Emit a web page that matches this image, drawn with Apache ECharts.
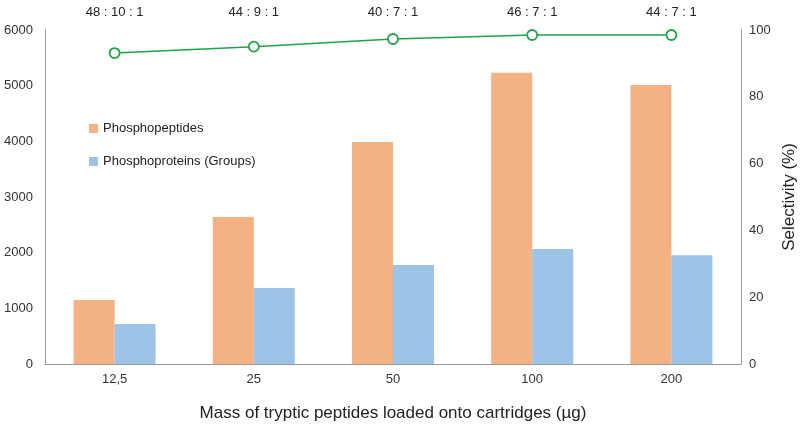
<!DOCTYPE html>
<html><head><meta charset="utf-8">
<script src="https://cdn.jsdelivr.net/npm/echarts@6/dist/echarts.min.js"></script>
<style>html,body{margin:0;padding:0;background:#fff}#c{width:800px;height:428px}</style>
</head><body><div id="c"></div>
<script>
const categories = ['12,5', '25', '50', '100', '200'];
const phosphopeptides = [1150, 2640, 3990, 5230, 5010];
const phosphoproteins = [720, 1365, 1780, 2065, 1955];
const selectivity = [93.1, 95.0, 97.3, 98.5, 98.5];
const ratios = ['48 : 10 : 1', '44 : 9 : 1', '40 : 7 : 1', '46 : 7 : 1', '44 : 7 : 1'];
const leftTicks = [0, 1000, 2000, 3000, 4000, 5000, 6000];
const rightTicks = [0, 20, 40, 60, 80, 100];

const font = 'Liberation Sans, Arial, sans-serif';
const chart = echarts.init(document.getElementById('c'));
chart.setOption({
  animation: false,
  textStyle: { fontFamily: font },
  legend: {
    orient: 'vertical', left: 84, top: 117, itemGap: 20,
    itemWidth: 9, itemHeight: 9, icon: 'rect',
    data: ['Phosphopeptides', 'Phosphoproteins (Groups)'],
    textStyle: { fontSize: 13, color: '#222', fontFamily: font }
  },
  grid: { left: 45, right: 59, top: 30, bottom: 64, containLabel: false, outerBoundsMode: 'none' },
  xAxis: [{
    type: 'category', data: categories, position: 'bottom',
    axisLine: { lineStyle: { color: '#999' } }, axisTick: { show: false },
    axisLabel: { fontSize: 13, color: '#333', margin: 9 },
    name: 'Mass of tryptic peptides loaded onto cartridges (µg)',
    nameLocation: 'middle', nameGap: 41,
    nameTextStyle: { fontSize: 17, color: '#222' }
  }, {
    type: 'category', data: ratios, position: 'top',
    axisLine: { show: false }, axisTick: { show: false },
    axisLabel: { fontSize: 13, color: '#222', margin: 11 }
  }],
  yAxis: [{
    type: 'value', min: 0, max: 6000, interval: 1000,
    axisLine: { show: true, lineStyle: { color: '#999' } }, axisTick: { show: false },
    splitLine: { show: false },
    axisLabel: { fontSize: 13, color: '#333', margin: 12,
      formatter: v => leftTicks.includes(v) ? String(v) : '' }
  }, {
    type: 'value', min: 0, max: 100, interval: 20, position: 'right',
    axisLine: { show: true, lineStyle: { color: '#999' } }, axisTick: { show: false },
    splitLine: { show: false },
    axisLabel: { fontSize: 13, color: '#333', margin: 8,
      formatter: v => rightTicks.includes(v) ? String(v) : '' },
    name: 'Selectivity (%)', nameLocation: 'middle', nameGap: 40, nameRotate: 90,
    nameMoveOverlap: false,
    nameTextStyle: { fontSize: 17, color: '#222' }
  }],
  series: [{
    name: 'Phosphopeptides', type: 'bar', data: phosphopeptides,
    barWidth: 41, barGap: '0%', itemStyle: { color: '#F4B183' }
  }, {
    name: 'Phosphoproteins (Groups)', type: 'bar', data: phosphoproteins,
    barWidth: 41, barGap: '0%', itemStyle: { color: '#9DC3E6' }
  }, {
    name: 'Selectivity', type: 'line', yAxisIndex: 1, data: selectivity,
    symbol: 'circle', symbolSize: 10,
    lineStyle: { color: '#1EA34A', width: 1.5 },
    itemStyle: { color: '#fff', borderColor: '#1EA34A', borderWidth: 1.8 }
  }]
});
</script></body></html>
